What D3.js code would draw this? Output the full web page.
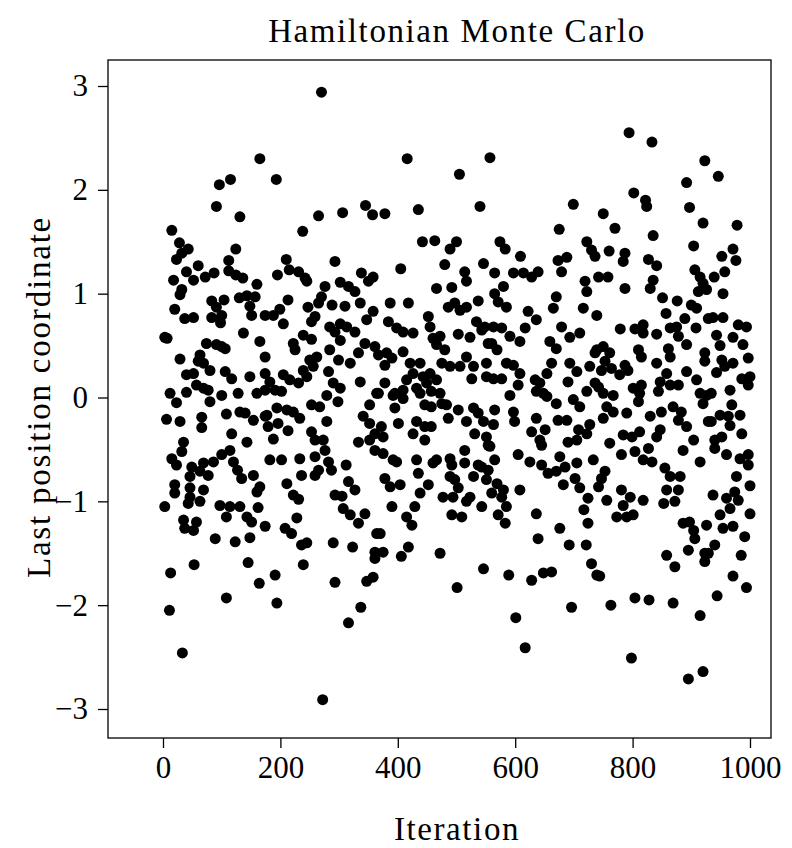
<!DOCTYPE html>
<html>
<head>
<meta charset="utf-8">
<script src="https://cdn.jsdelivr.net/npm/d3@7"></script>
<style>
  body { margin: 0; background: #fff; }
  text { font-family: "Liberation Serif", "DejaVu Serif", serif; }
</style>
</head>
<body>
<script>
// Each block: [iteration, last position coordinate]
var samplesA = [
  [165,2.30],[96,2.05],[115,2.10],[91,1.84],[131,1.74],[15,1.61],[28,1.49],[43,1.43],[32,1.39],[23,1.33],
  [124,1.43],[112,1.32],[60,1.27],[40,1.21],[52,1.13],[18,1.13],[72,1.16],[87,1.20],[112,1.22],[124,1.18],
  [136,1.15],[160,1.09],[32,1.04],[29,0.99],[83,0.93],[104,0.94],[91,0.87],[130,0.96],[143,0.98],[157,0.97],
  [148,0.88],[20,0.85],[37,0.76],[52,0.77],[83,0.77],[100,0.79],[98,0.72],[151,0.79],[174,0.79],[3,0.58],
  [7,0.57],[137,0.62],[165,0.54],[74,0.52],[91,0.51],[100,0.49],[106,0.47],[29,0.37],[63,0.41],[60,0.35],
  [69,0.33],[80,0.26],[106,0.25],[117,0.18],[148,0.20],[174,0.23],[40,0.22],[52,0.23],[57,0.12],[69,0.09],
  [77,0.07],[12,0.04],[40,0.05],[100,0.02],[128,0.04],[160,0.04],[174,0.07],
  [23,-0.05],[80,-0.04],[6,-0.21],[29,-0.23],[66,-0.19],[66,-0.29],[108,-0.16],[131,-0.14],[140,-0.15],
  [154,-0.22],[174,-0.18],[117,-0.35],[143,-0.43],[35,-0.43],[32,-0.52],[15,-0.59],[23,-0.65],[49,-0.67],
  [69,-0.63],[46,-0.76],[63,-0.71],[77,-0.75],[86,-0.62],[100,-0.55],[114,-0.51],[120,-0.62],[127,-0.70],
  [134,-0.78],[154,-0.75],[165,-0.86],[160,-0.91],[20,-0.84],[20,-0.92],[46,-0.87],[46,-0.96],[69,-0.89],
  [63,-1.00],[3,-1.05],[43,-1.02],[97,-1.04],[114,-1.05],[131,-1.05],[162,-1.06],[108,-1.15],[143,-1.15],
  [151,-1.20],[174,-1.24],[35,-1.18],[37,-1.26],[52,-1.28],[57,-1.20],[89,-1.36],[123,-1.39],[148,-1.35],
  [13,-1.69],[53,-1.61],[145,-1.59],[164,-1.79],[108,-1.93],[11,-2.05],[33,-2.46]
];

var samplesB = [
  [270,2.94],[193,2.10],[345,1.85],[357,1.76],[265,1.75],[306,1.78],[238,1.60],[210,1.33],[293,1.31],[195,1.18],
  [215,1.23],[231,1.21],[242,1.15],[245,1.12],[276,1.07],[302,1.11],[316,1.07],[327,1.02],[336,0.91],[338,1.20],
  [350,1.12],[358,1.16],[213,0.94],[199,0.85],[188,0.79],[205,0.71],[270,0.97],[265,0.91],[288,0.89],[310,0.88],
  [247,0.87],[259,0.78],[253,0.73],[284,0.68],[293,0.63],[302,0.71],[313,0.68],[327,0.63],[347,0.75],[358,0.83],
  [239,0.60],[253,0.56],[222,0.52],[225,0.46],[174,0.39],[284,0.46],[302,0.55],[299,0.36],[319,0.33],[333,0.43],
  [344,0.52],[361,0.49],[250,0.36],[256,0.30],[239,0.26],[262,0.39],[182,0.15],[205,0.22],[216,0.17],[231,0.14],
  [245,0.20],[282,0.25],[290,0.14],[302,0.09],[336,0.15],[367,0.04],[191,0.07],[202,0.06],
  [279,0.02],[298,-0.04],[352,-0.07],[177,-0.17],[194,-0.10],[211,-0.12],[222,-0.14],[233,-0.20],[253,-0.07],
  [267,-0.09],[279,-0.23],[179,-0.28],[196,-0.25],[213,-0.32],[188,-0.40],[253,-0.33],[259,-0.41],[273,-0.41],
  [276,-0.51],[341,-0.18],[352,-0.25],[333,-0.43],[352,-0.41],[361,-0.35],[182,-0.60],[202,-0.60],[233,-0.59],
  [259,-0.57],[265,-0.70],[282,-0.62],[287,-0.70],[259,-0.75],[236,-0.75],[312,-0.65],[316,-0.81],[327,-0.89],
  [293,-0.94],[305,-0.95],[211,-0.83],[222,-0.94],[231,-0.98],[228,-1.16],[208,-1.26],[219,-1.31],[307,-1.07],
  [319,-1.13],[333,-1.21],[344,-1.12],[364,-1.31],[236,-1.42],[245,-1.40],[290,-1.40],[323,-1.44],[361,-1.49],
  [361,-1.55],[239,-1.61],[191,-1.71],[293,-1.78],[347,-1.77],[358,-1.73],[194,-1.98],[337,-2.02],[316,-2.17],
  [272,-2.91]
];

var samplesC = [
  [416,2.30],[557,2.31],[505,2.15],[435,1.81],[540,1.84],[378,1.77],[442,1.50],[463,1.51],[489,1.43],[500,1.50],
  [546,1.29],[480,1.28],[405,1.24],[514,1.21],[517,1.12],[492,1.06],[466,1.05],[387,0.91],[418,0.91],[486,0.87],
  [497,0.91],[517,0.87],[537,0.93],[506,0.84],[384,0.73],[398,0.67],[409,0.63],[426,0.62],[452,0.78],[455,0.68],
  [460,0.57],[472,0.59],[466,0.51],[480,0.46],[503,0.61],[523,0.58],[534,0.73],[548,0.68],[554,0.52],[367,0.41],
  [381,0.43],[390,0.38],[378,0.31],[409,0.44],[421,0.33],[438,0.33],[426,0.23],[415,0.17],[443,0.20],[455,0.23],
  [449,0.14],[466,0.17],[475,0.33],[489,0.30],[506,0.30],[517,0.39],[529,0.30],[526,0.18],[551,0.33],[551,0.20],
  [378,0.14],[364,0.04],[395,0.04],[409,0.07],[432,0.09],[457,0.06],[472,0.04],
  [392,0.02],[409,-0.01],[395,-0.10],[401,-0.25],[372,-0.28],[375,-0.38],[361,-0.51],[375,-0.54],[392,-0.60],
  [398,-0.62],[438,0.04],[446,-0.07],[457,-0.09],[475,-0.06],[483,-0.07],[486,-0.20],[503,-0.12],[517,-0.23],
  [529,-0.10],[537,-0.15],[546,-0.23],[432,-0.23],[446,-0.28],[457,-0.28],[426,-0.35],[446,-0.41],[531,-0.35],
  [551,-0.38],[554,-0.46],[514,-0.51],[514,-0.63],[489,-0.59],[492,-0.65],[466,-0.60],[460,-0.63],[432,-0.60],
  [435,-0.73],[452,-0.84],[438,-0.92],[537,-0.65],[554,-0.70],[529,-0.76],[489,-0.76],[497,-0.79],[503,-0.87],
  [477,-0.96],[494,-0.96],[517,-1.00],[523,-0.96],[543,-1.05],[378,-0.78],[387,-0.86],[404,-0.84],[390,-1.05],
  [429,-1.05],[415,-1.15],[424,-1.23],[492,-1.13],[509,-1.15],[370,-1.31],[375,-1.49],[406,-1.53],[418,-1.44],
  [472,-1.50],[546,-1.65],[501,-1.83]
];

var samplesD = [
  [699,1.86],[675,1.62],[574,1.50],[583,1.43],[609,1.36],[722,1.50],[730,1.42],[736,1.36],[673,1.32],[688,1.35],
  [679,1.21],[565,1.20],[597,1.20],[614,1.20],[628,1.16],[639,1.21],[742,1.16],[580,1.07],[565,1.00],[571,0.92],
  [585,0.87],[670,0.97],[665,0.86],[719,1.12],[722,1.02],[716,0.86],[622,0.83],[636,0.75],[563,0.68],[577,0.67],
  [543,0.65],[591,0.59],[608,0.54],[617,0.67],[679,0.68],[693,0.58],[710,0.62],[659,0.54],[670,0.47],[739,0.79],
  [560,0.52],[569,0.46],[585,0.33],[597,0.31],[608,0.23],[563,0.18],[577,0.18],[662,0.33],[654,0.23],[634,0.17],
  [642,0.14],[636,0.06],[648,0.04],[693,0.33],[705,0.25],[690,0.15],[727,0.30],[736,0.43],[722,0.06],[736,0.14],
  [591,0.02],[605,0.12],
  [654,0.01],[670,-0.06],[699,-0.02],[710,-0.09],[565,-0.12],[597,-0.14],[599,-0.23],[563,-0.26],[557,-0.47],
  [636,-0.20],[628,-0.33],[651,-0.31],[642,-0.41],[645,-0.46],[673,-0.22],[688,-0.22],[708,-0.31],[727,-0.26],
  [722,-0.35],[690,-0.43],[705,-0.41],[565,-0.60],[543,-0.67],[551,-0.79],[569,-0.83],[580,-0.89],[560,-0.92],
  [577,-0.96],[585,-1.05],[571,-1.13],[583,-1.21],[605,-0.55],[625,-0.62],[645,-0.65],[656,-0.73],[670,-0.71],
  [676,-0.57],[685,-0.67],[682,-0.84],[705,-0.63],[702,-0.78],[710,-0.87],[724,-0.97],[733,-0.60],[608,-0.89],
  [636,-1.12],[639,-1.36],[676,-1.26],[692,-1.42],[721,-1.42],[724,-1.21],[717,-1.08],[730,-1.60],[739,-1.71],
  [589,-1.71],[628,-1.76],[648,-1.69],[662,-1.68],[696,-2.02],[601,-2.12],[617,-2.41]
];

var samplesE = [
  [794,2.55],[833,2.46],[923,2.28],[892,2.07],[802,1.97],[822,1.90],[824,1.84],[897,1.83],[920,1.68],[750,1.77],
  [770,1.63],[835,1.56],[760,1.41],[787,1.39],[784,1.31],[827,1.33],[841,1.27],[835,1.13],[830,1.05],[904,1.46],
  [906,1.23],[915,1.16],[912,1.02],[926,1.04],[758,1.16],[787,1.05],[851,0.96],[876,0.93],[857,0.81],[900,0.89],
  [909,0.86],[889,0.76],[908,0.67],[929,0.76],[779,0.66],[804,0.66],[818,0.70],[818,0.62],[841,0.61],[864,0.67],
  [875,0.68],[878,0.59],[892,0.51],[739,0.46],[750,0.49],[761,0.43],[753,0.35],[747,0.26],[764,0.28],[742,0.10],
  [787,0.31],[792,0.26],[778,0.22],[810,0.46],[815,0.39],[841,0.33],[861,0.47],[864,0.39],[858,0.23],[847,0.15],
  [892,0.25],[909,0.17],[923,0.43],[923,0.35],[750,0.04],[767,0.02],[801,0.09],[815,0.12],[812,0.04],[864,0.12],
  [878,0.12],[915,0.04],[926,0.02],
  [810,-0.04],[844,0.06],[920,-0.06],[756,-0.09],[767,-0.14],[750,-0.20],[790,-0.15],[830,-0.18],[849,-0.14],
  [869,-0.09],[883,-0.14],[892,-0.28],[904,-0.41],[878,-0.22],[929,-0.23],[784,-0.36],[761,-0.44],[799,-0.38],
  [812,-0.33],[804,-0.52],[827,-0.49],[841,-0.38],[847,-0.31],[833,-0.62],[818,-0.60],[781,-0.55],[753,-0.71],
  [747,-0.78],[742,-0.86],[756,-0.99],[781,-0.89],[796,-0.96],[784,-1.04],[818,-0.99],[773,-1.15],[801,-1.13],
  [790,-1.15],[855,-0.68],[864,-0.76],[881,-0.76],[858,-0.89],[878,-0.89],[853,-1.02],[872,-1.00],[886,-0.51],
  [915,-0.62],[886,-1.21],[897,-1.20],[904,-1.28],[906,-1.36],[926,-1.23],[895,-1.47],[923,-1.50],[923,-1.58],
  [858,-1.52],[872,-1.63],[744,-1.72],[763,-2.00],[804,-1.93],[828,-1.95],[869,-1.98],[915,-2.10],[798,-2.51],
  [895,-2.71],[920,-2.64]
];

var samplesF = [
  [946,2.13],[978,1.66],[952,1.36],[971,1.43],[976,1.32],[957,1.21],[939,1.16],[920,1.10],[954,1.00],[937,0.77],
  [954,0.77],[980,0.70],[994,0.68],[943,0.60],[971,0.58],[988,0.51],[949,0.50],[952,0.36],[957,0.30],[971,0.33],
  [997,0.38],[943,0.24],[986,0.18],[1000,0.20],[997,0.12],[966,0.07],[934,0.04],
  [969,-0.07],[949,-0.17],[963,-0.18],[983,-0.17],[966,-0.27],[934,-0.23],[940,-0.41],[952,-0.38],[940,-0.49],
  [986,-0.35],[960,-0.55],[983,-0.59],[997,-0.55],[997,-0.65],[977,-0.76],[1000,-0.85],[937,-0.94],[960,-0.97],
  [974,-0.91],[980,-0.99],[966,-1.07],[949,-1.13],[1000,-1.12],[954,-1.26],[971,-1.24],[991,-1.34],[940,-1.42],
  [929,-1.50],[985,-1.52],[971,-1.72],[994,-1.83],[944,-1.91]
];

var xTicks = [0, 200, 400, 600, 800, 1000];
var yTicks = [-3, -2, -1, 0, 1, 2, 3];

var width = 792, height = 848;
// plot box
var box = {left: 108, right: 771, top: 60, bottom: 738};

var svg = d3.select("body").append("svg")
    .attr("width", width)
    .attr("height", height);

svg.append("rect").attr("width", width).attr("height", height).attr("fill", "#fff");

var xScale = d3.scaleLinear().domain([0, 1000]).range([163, 750]);
var yScale = d3.scaleLinear().domain([-3, 3]).range([709, 86]);

var all = samplesA.concat(samplesB, samplesC, samplesD, samplesE, samplesF);

svg.append("g").selectAll("circle")
    .data(all)
    .join("circle")
    .attr("cx", d => xScale(d[0]))
    .attr("cy", d => yScale(d[1]))
    .attr("r", 5.5)
    .attr("fill", "#000");

// box around the plot
svg.append("rect")
    .attr("x", box.left)
    .attr("y", box.top)
    .attr("width", box.right - box.left)
    .attr("height", box.bottom - box.top)
    .attr("fill", "none")
    .attr("stroke", "#000")
    .attr("stroke-width", 1.3);

var fmt = d3.format("d");

var yAxis = svg.append("g")
    .attr("transform", "translate(" + box.left + ",0)")
    .call(d3.axisLeft(yScale).tickValues(yTicks).tickFormat(fmt).tickSize(10).tickPadding(10));

var xAxis = svg.append("g")
    .attr("transform", "translate(0," + box.bottom + ")")
    .call(d3.axisBottom(xScale).tickValues(xTicks).tickFormat(fmt).tickSize(10).tickPadding(8));

[yAxis, xAxis].forEach(function(a) {
    a.select(".domain").remove();
    a.selectAll(".tick line").attr("stroke", "#000").attr("stroke-width", 1.3);
    a.selectAll(".tick text")
        .attr("fill", "#000")
        .style("font-size", "31px")
        .style("font-family", "'Liberation Serif', serif");
});

svg.append("text")
    .attr("x", 457)
    .attr("y", 42)
    .attr("text-anchor", "middle")
    .style("font-size", "33px")
    .style("letter-spacing", "1.6px")
    .text("Hamiltonian Monte Carlo");

svg.append("text")
    .attr("x", 457)
    .attr("y", 840)
    .attr("text-anchor", "middle")
    .style("font-size", "33px")
    .style("letter-spacing", "1.6px")
    .text("Iteration");

svg.append("text")
    .attr("transform", "translate(50,397) rotate(-90)")
    .attr("text-anchor", "middle")
    .style("font-size", "33px")
    .style("letter-spacing", "1.8px")
    .text("Last position coordinate");
</script>
</body>
</html>
